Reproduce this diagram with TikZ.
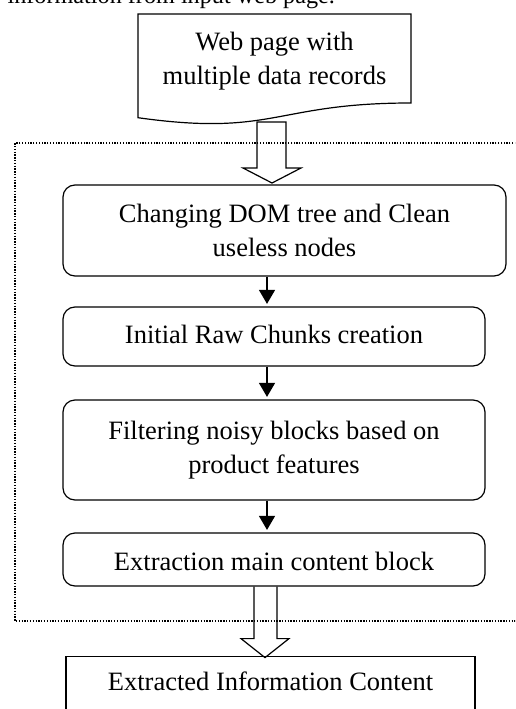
\documentclass[tikz,border=0pt]{standalone}
\usepackage{fontspec}
\setmainfont{Liberation Serif}
\usetikzlibrary{arrows.meta,calc}
\begin{document}
\begin{tikzpicture}[x=1pt,y=-1pt,
  line width=1.2pt,
  boxfont/.style={font=\fontsize{26.5}{33.5}\selectfont},
  stepbox/.style={draw, rounded corners=12pt, align=center, boxfont, inner sep=0pt},
  flowarrow/.style={-{Triangle[width=16pt,length=14pt]}, line width=1.3pt, shorten >=2.5pt},
  hollow/.style={line width=1.2pt, line join=miter},
  frame/.style={line width=1.2pt, dash pattern=on 1.3pt off 1.5pt}]
\useasboundingbox (0,0) rectangle (515,709);
\clip (0,0) rectangle (515,709);

% cut-off text line at the top
\node[anchor=base west, font=\fontsize{24.2}{29}\selectfont, inner sep=0pt] (intro) at (7,3.5) {information from input web page.};

% document shape
\draw (138,14) -- (411,14) -- (411,103) .. controls (274.5,103) and (274.5,136.9) .. (138,117.7) -- cycle;
\node[boxfont, align=center, inner sep=0pt] (doc) at (274.5,61) {Web page with\\multiple data records};

% dotted frame
\draw[frame] (530,143) -- (15,143) -- (15,621) -- (530,621);

% process boxes
\node[stepbox, minimum width=443pt, minimum height=91pt] (b1) at (284.5,230.5) {Changing DOM tree and Clean\\useless nodes};
\node[stepbox, minimum width=422pt, minimum height=59pt, text height=36pt, text depth=23pt] (b2) at (274,336.5) {Initial Raw Chunks creation};
\node[stepbox, minimum width=422pt, minimum height=100pt, align=center, font=\fontsize{26.5}{34.5}\selectfont] (b3) at (274,450) {Filtering noisy blocks based on\\product features};
\node[stepbox, minimum width=422pt, minimum height=53pt, text height=37pt, text depth=16pt] (b4) at (274,559.5) {Extraction main content block};
\node[draw, boxfont, inner sep=0pt, minimum width=409pt, minimum height=69pt, text height=34pt, text depth=35pt, anchor=north] (out) at (270.5,656) {Extracted Information Content};

% thin arrows
\coordinate (ax) at (267,0);
\draw[flowarrow] (b1.south -| ax) -- (b2.north -| ax);
\draw[flowarrow] (b2.south -| ax) -- (b3.north -| ax);
\draw[flowarrow] (b3.south -| ax) -- (b4.north -| ax);

% hollow arrows
\coordinate (h1) at (271.5,122);
\draw[hollow] ($(h1)+(-14.5,0)$) -- ($(h1)+(-14.5,46)$) -- ($(h1)+(-28.5,46)$) -- ($(h1)+(0.5,61)$) -- ($(h1)+(29.5,46)$) -- ($(h1)+(14.5,46)$) -- ($(h1)+(14.5,0)$) -- cycle;
\path (b4.south) ++(-8.5,0) coordinate (h2);
\draw[hollow] ($(h2)+(-11.5,0)$) -- ($(h2)+(-11.5,52)$) -- ($(h2)+(-24.5,52)$) -- ($(h2)+(-0.5,71)$) -- ($(h2)+(23.5,52)$) -- ($(h2)+(11.5,52)$) -- ($(h2)+(11.5,0)$);
\end{tikzpicture}
\end{document}
